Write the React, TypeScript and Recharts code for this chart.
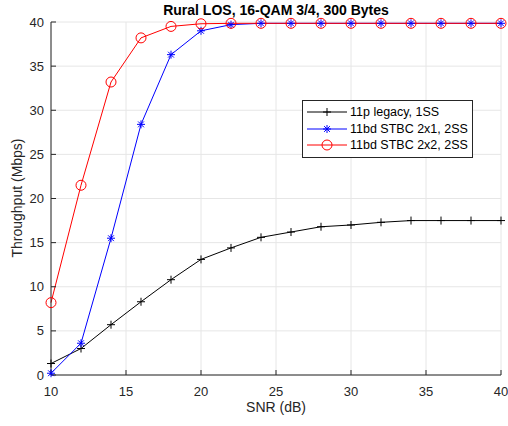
import React from "react";
import {
  CartesianGrid,
  Line,
  LineChart,
  XAxis,
  YAxis,
} from "recharts";

const snr = [10, 12, 14, 16, 18, 20, 22, 24, 26, 28, 30, 32, 34, 36, 38, 40];
const legacy1ss = [1.3, 3.0, 5.7, 8.3, 10.8, 13.1, 14.4, 15.6, 16.2, 16.8, 17.0, 17.3, 17.5, 17.5, 17.5, 17.5];
const stbc2x1 = [0.2, 3.6, 15.5, 28.4, 36.3, 39.0, 39.7, 39.85, 39.85, 39.85, 39.85, 39.85, 39.85, 39.85, 39.85, 39.85];
const stbc2x2 = [8.2, 21.5, 33.2, 38.2, 39.5, 39.8, 39.85, 39.85, 39.85, 39.85, 39.85, 39.85, 39.85, 39.85, 39.85, 39.85];
const xTicks = [10, 15, 20, 25, 30, 35, 40];
const yTicks = [0, 5, 10, 15, 20, 25, 30, 35, 40];

const data = snr.map((s, i) => ({
  snr: s,
  legacy: legacy1ss[i],
  s21: stbc2x1[i],
  s22: stbc2x2[i],
}));

const series = [
  { key: "legacy", name: "11p legacy, 1SS", color: "#000000", marker: "plus" },
  { key: "s21", name: "11bd STBC 2x1, 2SS", color: "#0000ff", marker: "star" },
  { key: "s22", name: "11bd STBC 2x2, 2SS", color: "#ff0000", marker: "circle" },
];

const font = "Liberation Sans, Arial, Helvetica, sans-serif";
const axisColor = "#262626";

const Marker = ({ type, cx, cy, color }: any) => {
  if (type === "circle") {
    return <circle cx={cx} cy={cy} r={5} fill="none" stroke={color} strokeWidth={1} />;
  }
  const s = 4;
  const d = 2.9;
  return (
    <g stroke={color} strokeWidth={1}>
      <line x1={cx - s} y1={cy} x2={cx + s} y2={cy} />
      <line x1={cx} y1={cy - s} x2={cx} y2={cy + s} />
      {type === "star" && (
        <>
          <line x1={cx - d} y1={cy - d} x2={cx + d} y2={cy + d} />
          <line x1={cx - d} y1={cy + d} x2={cx + d} y2={cy - d} />
        </>
      )}
    </g>
  );
};

const LegendBox = () => (
  <div
    style={{
      position: "absolute",
      left: 302,
      top: 100,
      width: 169,
      border: `1px solid ${axisColor}`,
      background: "#fff",
      padding: "3px 0 3px 0",
      fontFamily: font,
      fontSize: 12.5,
      color: "#000",
    }}
  >
    {series.map((s) => (
      <div key={s.key} style={{ display: "flex", alignItems: "center", height: 16.5 }}>
        <svg width={47} height={16} style={{ flex: "none" }}>
          <line x1={4} y1={8} x2={44} y2={8} stroke={s.color} strokeWidth={1} />
          <Marker type={s.marker} cx={24} cy={8} color={s.color} />
        </svg>
        <span style={{ whiteSpace: "nowrap" }}>{s.name}</span>
      </div>
    ))}
  </div>
);

export default function App() {
  return (
    <div style={{ position: "absolute", left: 0, top: 0, width: 508, height: 426, background: "#fff" }}>
      <LineChart
        width={508}
        height={426}
        data={data}
        margin={{ top: 22, right: 7, left: 0, bottom: 0 }}
      >
        <CartesianGrid stroke="#e6e6e6" strokeWidth={1} />
        <XAxis
          dataKey="snr"
          type="number"
          domain={[10, 40]}
          ticks={xTicks}
          height={51}
          stroke={axisColor}
          tickSize={-5}
          tickMargin={17}
          tick={{ fill: axisColor, fontSize: 13, fontFamily: font }}
        />
        <XAxis
          xAxisId="top"
          dataKey="snr"
          type="number"
          orientation="top"
          domain={[10, 40]}
          ticks={xTicks}
          height={0}
          stroke={axisColor}
          tickSize={-5}
          tickFormatter={() => ""}
        />
        <YAxis
          type="number"
          domain={[0, 40]}
          ticks={yTicks}
          width={51}
          stroke={axisColor}
          tickSize={-5}
          tickMargin={12}
          tick={{ fill: axisColor, fontSize: 13, fontFamily: font }}
        />
        <YAxis
          yAxisId="right"
          type="number"
          orientation="right"
          domain={[0, 40]}
          ticks={yTicks}
          width={0}
          stroke={axisColor}
          tickSize={-5}
          tickFormatter={() => ""}
        />
        {series.map((s) => (
          <Line
            key={s.key}
            dataKey={s.key}
            name={s.name}
            stroke={s.color}
            strokeWidth={1}
            type="linear"
            isAnimationActive={false}
            dot={(p: any) => (
              <Marker key={`${s.key}-${p.index}`} type={s.marker} cx={p.cx} cy={p.cy} color={s.color} />
            )}
            activeDot={false}
          />
        ))}
        <text x={276} y={15} textAnchor="middle" fontFamily={font} fontSize={14} fontWeight="bold" fill="#000">
          Rural LOS, 16-QAM 3/4, 300 Bytes
        </text>
        <text x={276} y={412} textAnchor="middle" fontFamily={font} fontSize={14} fill={axisColor}>
          SNR (dB)
        </text>
        <text
          x={22}
          y={198}
          textAnchor="middle"
          fontFamily={font}
          fontSize={14}
          fill={axisColor}
          transform="rotate(-90 22 198)"
        >
          Throughput (Mbps)
        </text>
      </LineChart>
      <LegendBox />
    </div>
  );
}
